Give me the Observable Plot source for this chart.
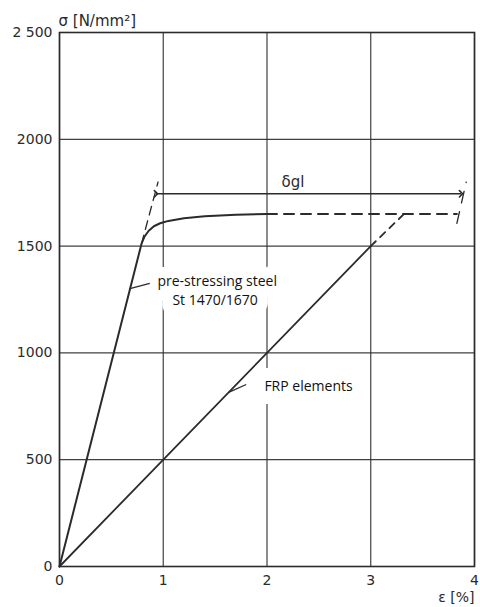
<!DOCTYPE html>
<html>
<head>
<meta charset="utf-8">
<script src="https://cdn.jsdelivr.net/npm/d3@7"></script>
<script src="https://cdn.jsdelivr.net/npm/@observablehq/plot@0.6"></script>
<style>
  html, body { margin: 0; padding: 0; background: #fff; }
</style>
</head>
<body>
<div id="chart"></div>
<script>
// ---- data ----
const xTicks = [0, 1, 2, 3, 4];
const yTicks = [0, 500, 1000, 1500, 2000, 2500];
const yTickLabels = ["0", "500", "1000", "1500", "2000", "2 500"];

// pre-stressing steel St 1470/1670 (solid part)
const steelEps = [0, 0.79, 0.82, 0.86, 0.91, 0.97, 1.05, 1.2, 1.4, 1.7, 2.0];
const steelSig = [0, 1510, 1545, 1572, 1593, 1607, 1618, 1630, 1640, 1647, 1650];
// steel, dashed continuation of plateau
const steelDashEps = [2.0, 3.83];
const steelDashSig = [1650, 1650];
// dashed extension of elastic branch
const elasticExtEps = [0.79, 0.95];
const elasticExtSig = [1510, 1800];
// dashed unloading line at end of δgl
const unloadEps = [3.83, 3.92];
const unloadSig = [1606, 1800];

// FRP elements
const frpEps = [0, 3.0];
const frpSig = [0, 1500];
const frpDashEps = [3.0, 3.32];
const frpDashSig = [1500, 1650];

// δgl dimension arrow
const dglEps = [0.93, 3.87];
const dglSig = 1745;

// labels
const labelSteel = ["pre-stressing steel", "St 1470/1670"];
const labelFrp = "FRP elements";
const labelDgl = "δgl";
const xLabel = "ε [%]";
const yLabel = "σ [N/mm²]";

const toPts = (xs, ys) => xs.map((x, i) => ({x, y: ys[i]}));

const ink = "#2b2b2b";
const tickFont = "DejaVu Sans, sans-serif";
const annoFont = "Open Sans, sans-serif";

const steelText = [
  {t: labelSteel[0], x: 1.52, y: 1332},
  {t: labelSteel[1], x: 1.5, y: 1246}
];
const frpText = [{t: labelFrp, x: 2.4, y: 843}];

const chart = Plot.plot({
  width: 480,
  height: 607,
  marginLeft: 59,
  marginRight: 6,
  marginTop: 32,
  marginBottom: 41,
  x: {domain: [0, 4]},
  y: {domain: [0, 2500]},
  style: {background: "#fff", color: ink},
  marks: [
    Plot.gridX(xTicks, {stroke: ink, strokeOpacity: 0.9, strokeWidth: 1.2}),
    Plot.gridY(yTicks, {stroke: ink, strokeOpacity: 0.9, strokeWidth: 1.2}),
    Plot.frame({stroke: ink, strokeWidth: 1.6}),
    Plot.axisX(xTicks, {tickSize: 0, tickPadding: 9, fontSize: 14, fontFamily: tickFont, label: null, tickFormat: d => String(d)}),
    Plot.axisY(yTicks, {tickSize: 0, tickPadding: 7, fontSize: 14, fontFamily: tickFont, label: null,
      tickFormat: d => yTickLabels[yTicks.indexOf(d)]}),
    // white backgrounds behind annotation texts (halo layer)
    Plot.text(steelText, {x: "x", y: "y", text: "t", fontSize: 14, fontFamily: annoFont,
      fill: "white", stroke: "white", strokeWidth: 22}),
    Plot.text(frpText, {x: "x", y: "y", text: "t", fontSize: 14, fontFamily: annoFont,
      fill: "white", stroke: "white", strokeWidth: 26}),
    // curves
    Plot.line(toPts(steelEps, steelSig), {x: "x", y: "y", stroke: ink, strokeWidth: 2, curve: "linear", strokeLinejoin: "round"}),
    Plot.line(toPts(steelDashEps, steelDashSig), {x: "x", y: "y", stroke: ink, strokeWidth: 2, strokeDasharray: "10,7"}),
    Plot.line(toPts(elasticExtEps, elasticExtSig), {x: "x", y: "y", stroke: ink, strokeWidth: 1.3, strokeDasharray: "9,6"}),
    Plot.line(toPts(unloadEps, unloadSig), {x: "x", y: "y", stroke: ink, strokeWidth: 1.3, strokeDasharray: "12,9"}),
    Plot.line(toPts(frpEps, frpSig), {x: "x", y: "y", stroke: ink, strokeWidth: 1.8}),
    Plot.line(toPts(frpDashEps, frpDashSig), {x: "x", y: "y", stroke: ink, strokeWidth: 1.8, strokeDasharray: "7,6"}),
    // δgl dimension line
    Plot.link([{x1: dglEps[0], x2: dglEps[1], y: dglSig}], {x1: "x1", x2: "x2", y1: "y", y2: "y",
      stroke: ink, strokeWidth: 1.6, markerStart: "arrow", markerEnd: "arrow"}),
    Plot.text([labelDgl], {x: () => 2.25, y: () => 1800, fontSize: 15, fontFamily: tickFont, fill: ink}),
    // annotation texts
    Plot.text(steelText, {x: "x", y: "y", text: "t", fontSize: 14, fontFamily: annoFont, fill: "#111"}),
    Plot.text(frpText, {x: "x", y: "y", text: "t", fontSize: 14, fontFamily: annoFont, fill: "#111"}),
    // leader lines
    Plot.link([{x1: 0.67, y1: 1300, x2: 0.87, y2: 1325}], {x1: "x1", y1: "y1", x2: "x2", y2: "y2", stroke: ink, strokeWidth: 1.3}),
    Plot.link([{x1: 1.63, y1: 815, x2: 1.8, y2: 852}], {x1: "x1", y1: "y1", x2: "x2", y2: "y2", stroke: ink, strokeWidth: 1.3}),
    // axis titles
    Plot.text([yLabel], {frameAnchor: "top-left", dx: -1, dy: -17, textAnchor: "start", fontSize: 15, fontFamily: tickFont, fill: ink}),
    Plot.text([xLabel], {frameAnchor: "bottom-right", dx: 0, dy: 35, textAnchor: "end", fontSize: 14, fontFamily: tickFont, fill: ink})
  ]
});
document.getElementById("chart").appendChild(chart);
</script>
</body>
</html>
